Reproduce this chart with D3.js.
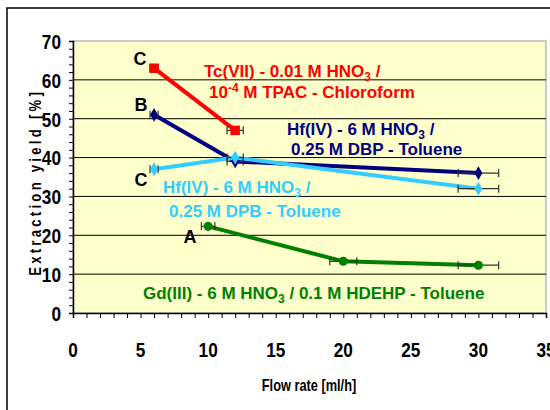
<!DOCTYPE html>
<html><head><meta charset="utf-8">
<script src="https://cdn.jsdelivr.net/npm/d3@7"></script>
<style>
body{margin:0;background:#fff;}
svg{display:block;}
</style>
</head><body>
<svg id="c" width="550" height="410"></svg>
<script>
// ---- data ----
const xTicks = [0,5,10,15,20,25,30,35];
const yTicks = [0,10,20,30,40,50,60,70];
const tcFlow = [6,12];
const tcYield = [63,47];
const tcErr = [0.3,0.6];
const hfDbpFlow = [6,12,30];
const hfDbpYield = [51,39,36];
const hfDbpErr = [0.3,0.6,1.5];
const hfDpbFlow = [6,12,30];
const hfDpbYield = [37,40,32];
const hfDpbErr = [0.3,0.6,1.5];
const gdFlow = [10,20,30];
const gdYield = [22.3,13.3,12.3];
const gdErr = [0.5,1.0,1.5];

const svg = d3.select("#c");
const L=73, T=41, R=546, B=313;
const x = d3.scaleLinear().domain([0,35]).range([L,R]);
const y = d3.scaleLinear().domain([0,70]).range([B,T]);
const ff = "'Liberation Sans',Arial,sans-serif";

// narrow (condensed) bold text via horizontal scaling
function narrowText(parent, px, py, str, size, anchor, sx){
  return parent.append("text")
    .attr("transform",`translate(${px},${py}) scale(${sx||0.8},1)`)
    .attr("text-anchor",anchor||"middle")
    .attr("font-family",ff).attr("font-weight","bold").attr("font-size",size)
    .attr("fill","#000").text(str);
}

// outer frame
svg.append("rect").attr("x",7).attr("y",8).attr("width",560).attr("height",420)
  .attr("fill","none").attr("stroke","#000").attr("stroke-width",1.5);

// plot bg
svg.append("rect").attr("x",L).attr("y",T).attr("width",R-L).attr("height",B-T)
  .attr("fill","#FFFFCC").attr("stroke","#999").attr("stroke-width",1);

// gridlines
svg.append("g").selectAll("line").data(yTicks.filter(d=>d>0&&d<70)).join("line")
  .attr("x1",L).attr("x2",R).attr("y1",d=>y(d)).attr("y2",d=>y(d))
  .attr("stroke","#000").attr("stroke-width",1);

// y axis
const ya = svg.append("g").attr("transform",`translate(${L},0)`)
  .call(d3.axisLeft(y).tickValues(d3.range(0,71,2)).tickSize(4).tickFormat(""));
ya.select(".domain").attr("stroke","#000").attr("stroke-width",1.5);
ya.selectAll(".tick line").attr("stroke","#000");
const yl = svg.append("g");
yTicks.forEach(v=>narrowText(yl, 61, y(v)+7.8, String(v), 21, "end", 0.82));

// x axis
const xa = svg.append("g").attr("transform",`translate(0,${B})`)
  .call(d3.axisBottom(x).tickValues(d3.range(0,36,1)).tickSize(5).tickFormat(""));
xa.select(".domain").attr("stroke","#000").attr("stroke-width",1.5);
xa.selectAll(".tick line").attr("stroke","#000");
const xl = svg.append("g");
xTicks.forEach(v=>narrowText(xl, x(v), 357, String(v), 21, "middle", 0.82));

// axis titles
narrowText(svg, 309, 391, "Flow rate [ml/h]", 16, "middle", 0.8);
svg.append("text").attr("transform","translate(41,184) rotate(-90) scale(0.82,1)").attr("text-anchor","middle")
  .attr("font-family",ff).attr("font-weight","bold").attr("font-size",16)
  .attr("textLength",224).attr("lengthAdjust","spacing").text("Extraction yield [%]");

const series = [
  {f:tcFlow, v:tcYield, e:tcErr, c:"#FF0000", m:"square"},
  {f:hfDbpFlow, v:hfDbpYield, e:hfDbpErr, c:"#000080", m:"diamond"},
  {f:hfDpbFlow, v:hfDpbYield, e:hfDpbErr, c:"#33CCFF", m:"diamond"},
  {f:gdFlow, v:gdYield, e:gdErr, c:"#008000", m:"circle"}
];
const line = d3.line().x(d=>x(d[0])).y(d=>y(d[1]));
series.forEach(s=>{
  const pts = s.f.map((f,i)=>[f,s.v[i]]);
  svg.append("path").attr("d",line(pts)).attr("fill","none").attr("stroke",s.c).attr("stroke-width",4);
});
series.forEach(s=>{
  const g = svg.append("g").attr("stroke","#333").attr("stroke-width",1.2);
  s.f.forEach((f,i)=>{
    const v=s.v[i], e=s.e[i];
    g.append("line").attr("x1",x(f-e)).attr("x2",x(f+e)).attr("y1",y(v)).attr("y2",y(v));
    [f-e,f+e].forEach(xx=>g.append("line").attr("x1",x(xx)).attr("x2",x(xx)).attr("y1",y(v)-4).attr("y2",y(v)+4));
  });
});
series.forEach(s=>{
  const pts = s.f.map((f,i)=>[f,s.v[i]]);
  const sym = s.m==="square"?d3.symbolSquare:s.m==="diamond"?d3.symbolDiamond:d3.symbolCircle;
  const size = s.m==="square"?90:s.m==="diamond"?55:65;
  svg.append("g").selectAll("path").data(pts).join("path")
    .attr("transform",d=>`translate(${x(d[0])},${y(d[1])})`)
    .attr("d",d3.symbol(sym,size)).attr("fill",s.c);
});

// letters
const letters = [["C",140,65],["B",141,111],["C",141,186],["A",190,243]];
svg.append("g").selectAll("text").data(letters).join("text")
  .attr("x",d=>d[1]).attr("y",d=>d[2]).attr("text-anchor","middle")
  .attr("font-family",ff).attr("font-weight","bold").attr("font-size",18)
  .text(d=>d[0]);

// annotations
function label(xp, yp, color, parts){
  const t = svg.append("text").attr("x",xp).attr("y",yp).attr("fill",color)
    .attr("font-family",ff).attr("font-weight","bold").attr("font-size",17);
  parts.forEach(p=>{
    const ts = t.append("tspan").text(p[0]);
    if(p[1]==="sub") ts.attr("font-size",12).attr("dy",4);
    if(p[1]==="sup") ts.attr("font-size",12).attr("dy",-6);
    if(p[1]==="back") ts.attr("dy",p[2]);
  });
}
label(204,77,"#FF0000",[["Tc(VII) - 0.01 M HNO"],["3","sub"],[" /","back",-4]]);
label(209,98,"#FF0000",[["10"],["-4","sup"],[" M TPAC - Chloroform","back",6]]);
label(287,135,"#000080",[["Hf(IV) - 6 M HNO"],["3","sub"],[" /","back",-4]]);
label(291,155,"#000080",[["0.25 M DBP - Toluene"]]);
label(163,193,"#33CCFF",[["Hf(IV) - 6 M HNO"],["3","sub"],[" /","back",-4]]);
label(169,217,"#33CCFF",[["0.25 M DPB - Toluene"]]);
label(143,299,"#008000",[["Gd(III) - 6 M HNO"],["3","sub"],[" / 0.1 M HDEHP - Toluene","back",-4]]);
</script>
</body></html>
